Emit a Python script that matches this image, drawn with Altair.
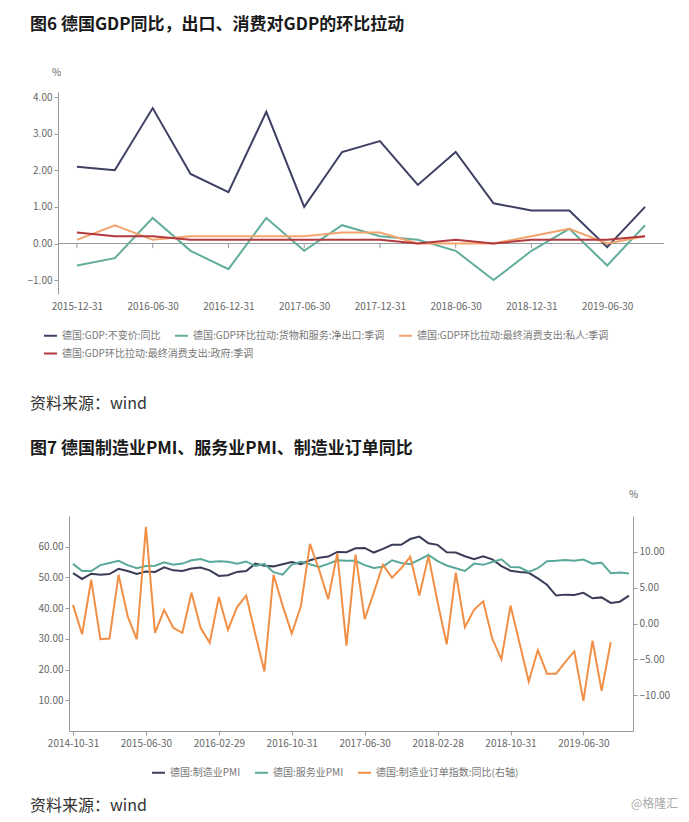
import altair as alt
import pandas as pd

FONT = "Noto Sans CJK SC"

# ---------------- Figure 6 data ----------------
quarters = ["2015-12-31", "2016-03-31", "2016-06-30", "2016-09-30", "2016-12-31",
            "2017-03-31", "2017-06-30", "2017-09-30", "2017-12-31", "2018-03-31",
            "2018-06-30", "2018-09-30", "2018-12-31", "2019-03-31", "2019-06-30",
            "2019-09-30"]
quarter_ticks = ["2015-12-31", "2016-06-30", "2016-12-31", "2017-06-30",
                 "2017-12-31", "2018-06-30", "2018-12-31", "2019-06-30"]
gdp_yoy = [2.1, 2.0, 3.7, 1.9, 1.4, 3.6, 1.0, 2.5, 2.8, 1.6, 2.5, 1.1, 0.9, 0.9, -0.1, 1.0]
net_exports = [-0.6, -0.4, 0.7, -0.2, -0.7, 0.7, -0.2, 0.5, 0.2, 0.1, -0.2, -1.0, -0.2, 0.4, -0.6, 0.5]
private_cons = [0.1, 0.5, 0.1, 0.2, 0.2, 0.2, 0.2, 0.3, 0.3, 0.0, 0.0, 0.0, 0.2, 0.4, 0.0, 0.2]
gov_cons = [0.3, 0.2, 0.2, 0.1, 0.1, 0.1, 0.1, 0.1, 0.1, 0.0, 0.1, 0.0, 0.1, 0.1, 0.1, 0.2]
series_a = ["德国:GDP:不变价:同比", "德国:GDP环比拉动:货物和服务:净出口:季调",
            "德国:GDP环比拉动:最终消费支出:私人:季调", "德国:GDP环比拉动:最终消费支出:政府:季调"]
colors_a = ["#3d4064", "#62ad9c", "#f3a46c", "#b23a3e"]

# ---------------- Figure 7 data ----------------
months = [d.strftime("%Y-%m-%d") for d in
          pd.date_range("2014-10-31", periods=62, freq=pd.offsets.MonthEnd())]
month_ticks = ["2014-10-31", "2015-06-30", "2016-02-29", "2016-10-31",
               "2017-06-30", "2018-02-28", "2018-10-31", "2019-06-30"]
mfg_pmi = [51.4, 49.5, 51.2, 50.9, 51.1, 52.8, 52.1, 51.1, 51.9, 51.8, 53.3, 52.3,
           52.1, 52.9, 53.2, 52.3, 50.5, 50.7, 51.8, 52.1, 54.5, 53.8, 53.6, 54.3,
           55.0, 54.3, 55.6, 56.4, 56.8, 58.3, 58.2, 59.5, 59.6, 58.1, 59.3, 60.6,
           60.6, 62.5, 63.3, 61.1, 60.6, 58.2, 58.1, 56.9, 55.9, 56.9, 55.9, 53.7,
           52.2, 51.8, 51.5, 49.7, 47.6, 44.1, 44.4, 44.3, 45.0, 43.2, 43.5, 41.7,
           42.1, 44.1]
services_pmi = [54.4, 52.1, 52.1, 54.0, 54.7, 55.4, 54.0, 53.0, 53.7, 53.8, 54.9, 54.1,
                54.5, 55.6, 56.0, 55.0, 55.3, 55.1, 54.5, 55.2, 53.7, 54.4, 51.7, 50.9,
                54.2, 55.1, 54.3, 53.4, 54.4, 55.6, 55.4, 55.4, 54.0, 53.1, 53.5, 55.6,
                54.7, 54.3, 55.8, 57.3, 55.3, 53.9, 53.0, 52.1, 54.5, 54.1, 55.0, 55.9,
                53.4, 53.3, 51.8, 53.0, 55.3, 55.4, 55.7, 55.4, 55.8, 54.5, 54.8, 51.4,
                51.6, 51.3]
orders_yoy = [2.6, -1.5, 6.1, -2.2, -2.1, 6.8, 1.0, -2.2, 13.5, -1.3,
              1.9, -0.6, -1.3, 4.3, -0.6, -2.7, 3.7, -0.9, 2.3, 3.9,
              -1.5, -6.7, 6.8, 2.5, -1.4, 2.4, 11.1, 7.5, 3.4, 9.8,
              -3.1, 9.6, 0.6, 4.3, 8.2, 6.4, 7.7, 9.3, 3.9, 9.4,
              3.0, -2.9, 7.1, -0.5, 1.9, 3.1, -2.1, -5.0, 2.5, -2.8,
              -8.1, -3.7, -7.0, -7.0, -5.4, -3.9, -10.8, -2.4, -9.4, -2.6]
series_b = ["德国:制造业PMI", "德国:服务业PMI", "德国:制造业订单指数:同比(右轴)"]
colors_b = ["#3a3d57", "#5aa99a", "#f08f45"]

AX = "#9a9a9a"
LAB = "#666666"

def legend_kw(x, y):
    return dict(orient="none", legendX=x, legendY=y, direction="horizontal", title=None,
                symbolType="stroke", symbolStrokeWidth=2, symbolSize=169,
                labelFontSize=10, labelColor="#777777", labelFont=FONT,
                columnPadding=10, labelLimit=400, labelOffset=4)

# ---------------- Figure 6 ----------------
rows_a = []
for name, vals in zip(series_a, [gdp_yoy, net_exports, private_cons, gov_cons]):
    for q, v in zip(quarters, vals):
        rows_a.append({"quarter": q, "value": v, "series": name})
df_a = pd.DataFrame(rows_a)
df_a_main = df_a[df_a["series"] != series_a[3]]
df_a_gov = df_a[df_a["series"] == series_a[3]]

xa = alt.X("quarter:O",
           scale=alt.Scale(type="point", domain=quarters, padding=0.5),
           axis=alt.Axis(values=quarter_ticks, labelAngle=0, domain=False, ticks=False,
                         labelPadding=7, labelFontSize=10, labelColor=LAB, labelFont=FONT,
                         title=None))
ya = alt.Y("value:Q",
           scale=alt.Scale(domain=[-1.38, 4.14], nice=False, zero=False),
           axis=alt.Axis(values=[-1, 0, 1, 2, 3, 4], format=".2f", grid=False,
                         title="%", titleAngle=0, titleX=-2, titleY=-15, titleAlign="center",
                         titleFontWeight="normal", titleFontSize=10, titleColor=LAB,
                         titleFont=FONT, domainColor=AX, tickColor=AX, tickSize=4,
                         labelColor=LAB, labelFontSize=10, labelFont=FONT, labelPadding=2))

lines_a = alt.Chart(df_a_main).mark_line(strokeWidth=2).encode(
    x=xa, y=ya,
    color=alt.Color("series:N", scale=alt.Scale(domain=series_a[:3], range=colors_a[:3]),
                    legend=alt.Legend(**legend_kw(-15, 236))))
lines_gov = alt.Chart(df_a_gov).mark_line(strokeWidth=2).encode(
    x=xa, y=ya,
    stroke=alt.Stroke("series:N", scale=alt.Scale(domain=series_a[3:], range=colors_a[3:]),
                      legend=alt.Legend(**legend_kw(-15, 254))))

zero_a = alt.Chart(pd.DataFrame({"v": [0]})).mark_rule(color=AX, strokeWidth=1).encode(
    y=alt.datum(0))
ticks_a = alt.Chart(pd.DataFrame({"quarter": quarter_ticks})).mark_rule(
    color=AX, strokeWidth=1).encode(x=xa, y=alt.datum(0), y2=alt.datum(-0.13))
src_a = alt.Chart(pd.DataFrame({"t": ["资料来源：wind"]})).mark_text(
    align="left", baseline="middle", fontSize=16, font=FONT, color="#333333").encode(
    text="t:N", x=alt.value(-28), y=alt.value(312))

chart_a = alt.layer(zero_a, ticks_a, lines_a, lines_gov, src_a).properties(
    width=606, height=202,
    title=alt.TitleParams("图6 德国GDP同比，出口、消费对GDP的环比拉动", anchor="start",
                          frame="group", dx=-28, fontSize=17, fontWeight="bold", font=FONT,
                          color="#1a1a1a", offset=33))

# ---------------- Figure 7 ----------------
rows_b = []
for name, vals in zip(series_b[:2], [mfg_pmi, services_pmi]):
    for m, v in zip(months, vals):
        rows_b.append({"month": m, "value": v, "series": name})
df_b1 = pd.DataFrame(rows_b)
df_b2 = pd.DataFrame({"month": months[:len(orders_yoy)], "orders": orders_yoy,
                      "series": series_b[2]})

xb = alt.X("month:O",
           scale=alt.Scale(type="point", domain=months, range=[11, 575], padding=0.44),
           axis=alt.Axis(values=month_ticks, labelAngle=0, domainColor=AX, tickColor=AX,
                         tickSize=4, labelColor=LAB, labelFontSize=10, labelFont=FONT,
                         labelPadding=3, title=None))
color_b = alt.Color("series:N", scale=alt.Scale(domain=series_b, range=colors_b),
                    legend=alt.Legend(**legend_kw(93, 249)))

left_b = alt.Chart(df_b1).mark_line(strokeWidth=2).encode(
    x=xb,
    y=alt.Y("value:Q", scale=alt.Scale(domain=[0, 70], nice=False),
            axis=alt.Axis(values=[10, 20, 30, 40, 50, 60], format=".2f", offset=-11,
                          title=None, grid=False, domainColor=AX, tickColor=AX, tickSize=4,
                          labelColor=LAB, labelFontSize=10, labelFont=FONT, labelPadding=2)),
    color=color_b)

right_b = alt.Chart(df_b2).mark_line(strokeWidth=2).encode(
    x=xb,
    y=alt.Y("orders:Q", scale=alt.Scale(domain=[-15, 15], nice=False),
            axis=alt.Axis(orient="right", values=[-10, -5, 0, 5, 10], format=".2f",
                          title="%", titleAngle=0, titleX=0, titleY=-17, titleAlign="center",
                          titleFontWeight="normal", titleFontSize=10, titleColor=LAB,
                          titleFont=FONT, grid=False, domainColor=AX, tickColor=AX,
                          tickSize=4, labelColor=LAB, labelFontSize=10, labelFont=FONT,
                          labelPadding=2)),
    color=color_b)

src_b = alt.Chart(pd.DataFrame({"t": ["资料来源：wind"]})).mark_text(
    align="left", baseline="middle", fontSize=16, font=FONT, color="#333333").encode(
    text="t:N", x=alt.value(-28), y=alt.value(290))
mark_b = alt.Chart(pd.DataFrame({"t": ["@格隆汇"]})).mark_text(
    align="left", baseline="middle", fontSize=12, font=FONT, color="#aaaaaa").encode(
    text="t:N", x=alt.value(573), y=alt.value(288))

chart_b = alt.layer(left_b, right_b, src_b, mark_b).resolve_scale(y="independent").properties(
    width=575, height=215,
    title=alt.TitleParams("图7 德国制造业PMI、服务业PMI、制造业订单同比", anchor="start",
                          frame="group", dx=-28, fontSize=17, fontWeight="bold", font=FONT,
                          color="#1a1a1a", offset=31))

chart = alt.vconcat(chart_a, chart_b, spacing=28).resolve_scale(
    color="independent", stroke="independent", x="independent", y="independent"
).properties(
    padding={"left": 27, "top": 16, "right": 0, "bottom": 6},
    background="white",
).configure_view(stroke=None)

chart.save("out.html", embed_options={"renderer": "svg", "actions": False})
